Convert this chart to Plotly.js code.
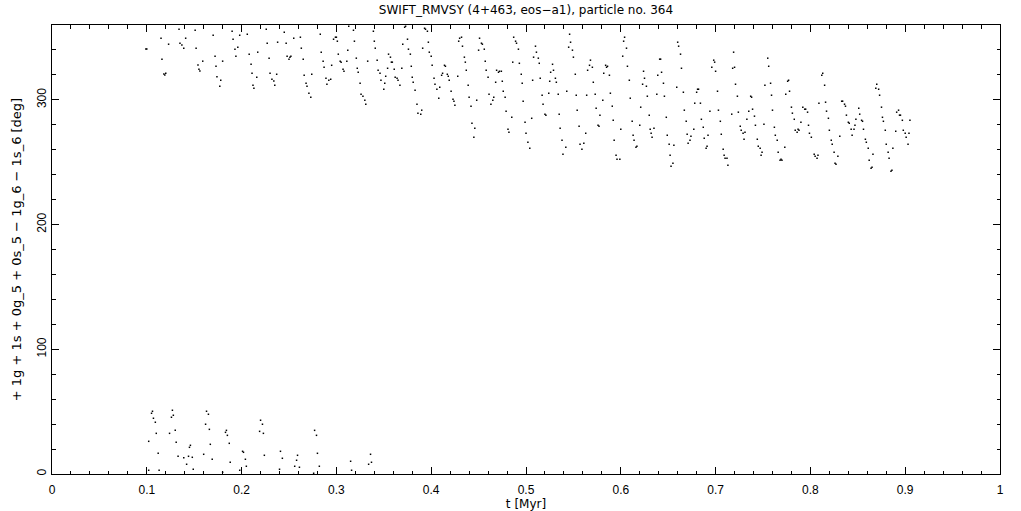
<!DOCTYPE html>
<html>
<head>
<meta charset="utf-8">
<script src="https://cdn.plot.ly/plotly-3.0.1.min.js"></script>
<style>html,body{margin:0;padding:0;background:#fff;}#chart{width:1021px;height:511px;}</style>
</head>
<body>
<div id="chart"></div>
<script>
// Upper band: resonant angle values (deg) vs time (Myr)
const tUpper = [0.099,0.100,0.115,0.116,0.118,0.120,0.119,0.123,0.134,0.135,0.137,0.139,0.141,0.151,0.152,0.154,0.155,0.156,0.159,0.170,
0.172,0.173,0.174,0.178,0.177,0.180,0.190,0.191,0.193,0.196,0.194,0.198,0.206,0.208,0.210,0.211,0.216,0.212,0.213,0.217,
0.226,0.227,0.229,0.230,0.232,0.234,0.235,0.237,0.238,0.245,0.247,0.248,0.250,0.251,0.252,0.255,0.262,0.263,0.265,0.266,
0.268,0.269,0.271,0.273,0.274,0.283,0.284,0.286,0.287,0.289,0.292,0.294,0.290,0.295,0.297,0.299,0.300,0.301,0.302,0.304,
0.305,0.307,0.308,0.311,0.312,0.313,0.318,0.319,0.321,0.322,0.323,0.325,0.326,0.328,0.330,0.331,0.333,0.339,0.340,0.341,
0.343,0.344,0.346,0.347,0.350,0.351,0.352,0.354,0.355,0.357,0.358,0.359,0.361,0.362,0.364,0.365,0.367,0.369,0.370,0.372,
0.373,0.375,0.376,0.378,0.379,0.380,0.381,0.383,0.385,0.386,0.389,0.390,0.391,0.393,0.394,0.396,0.397,0.398,0.400,0.401,
0.403,0.404,0.406,0.409,0.408,0.411,0.412,0.414,0.415,0.417,0.418,0.419,0.421,0.423,0.424,0.425,0.428,0.429,0.430,0.432,
0.433,0.435,0.436,0.437,0.439,0.440,0.442,0.443,0.446,0.445,0.448,0.450,0.451,0.453,0.454,0.456,0.457,0.458,0.460,0.461,
0.463,0.465,0.466,0.468,0.469,0.471,0.472,0.474,0.475,0.476,0.478,0.479,0.481,0.482,0.485,0.486,0.487,0.489,0.490,0.492,
0.493,0.495,0.496,0.497,0.499,0.500,0.502,0.504,0.506,0.507,0.508,0.510,0.511,0.513,0.514,0.515,0.517,0.518,0.520,0.521,
0.524,0.525,0.526,0.528,0.529,0.531,0.532,0.534,0.535,0.536,0.538,0.539,0.542,0.543,0.545,0.546,0.547,0.549,0.550,0.552,
0.553,0.554,0.556,0.557,0.559,0.561,0.563,0.564,0.565,0.567,0.568,0.570,0.571,0.573,0.574,0.576,0.577,0.578,0.581,0.582,
0.584,0.585,0.586,0.588,0.589,0.591,0.592,0.593,0.595,0.596,0.599,0.600,0.602,0.603,0.604,0.606,0.607,0.609,0.610,0.612,
0.613,0.614,0.616,0.617,0.620,0.621,0.623,0.624,0.625,0.627,0.628,0.630,0.631,0.632,0.633,0.635,0.638,0.639,0.641,0.642,
0.643,0.645,0.646,0.648,0.649,0.651,0.652,0.653,0.655,0.656,0.659,0.660,0.661,0.663,0.664,0.666,0.667,0.669,0.670,0.671,
0.673,0.674,0.677,0.678,0.680,0.681,0.682,0.684,0.685,0.687,0.688,0.690,0.691,0.692,0.694,0.696,0.698,0.699,0.700,0.702,
0.703,0.705,0.706,0.708,0.709,0.710,0.712,0.713,0.717,0.718,0.719,0.720,0.721,0.723,0.724,0.726,0.727,0.729,0.730,0.731,
0.733,0.735,0.737,0.738,0.739,0.741,0.742,0.744,0.745,0.747,0.748,0.749,0.751,0.752,0.755,0.756,0.758,0.759,0.760,0.762,
0.763,0.765,0.766,0.768,0.769,0.770,0.773,0.774,0.776,0.777,0.778,0.780,0.781,0.783,0.784,0.786,0.787,0.788,0.790,0.792,
0.794,0.795,0.797,0.798,0.799,0.801,0.804,0.805,0.807,0.808,0.809,0.812,0.813,0.815,0.816,0.817,0.819,0.820,0.822,0.823,
0.825,0.826,0.827,0.829,0.831,0.833,0.834,0.836,0.837,0.838,0.840,0.841,0.843,0.844,0.846,0.847,0.848,0.851,0.852,0.854,
0.855,0.856,0.858,0.859,0.861,0.862,0.864,0.865,0.866,0.869,0.870,0.872,0.873,0.875,0.876,0.877,0.879,0.880,0.882,0.883,
0.885,0.886,0.887,0.890,0.891,0.893,0.894,0.895,0.897,0.898,0.900,0.901,0.903,0.904,0.905];
const phiUpper = [340.8,340.8,349.4,332.6,320.8,321.3,320.0,344.6,356.6,345.4,344.0,341.4,349.4,355.8,341.4,328.0,324.5,323.2,331.0,351.8,
335.0,326.9,318.6,315.7,310.9,331.0,355.0,348.6,340.6,342.2,335.0,351.8,352.6,336.6,328.5,321.3,318.1,311.7,309.3,338.2,
356.6,345.4,333.4,321.3,316.5,315.2,311.7,320.5,346.2,354.2,345.4,335.0,332.6,334.2,335.0,349.4,350.2,341.4,332.6,319.7,
313.3,310.9,305.3,302.1,320.5,352.6,338.2,331.0,326.1,317.3,315.7,316.5,312.5,327.7,348.6,350.2,350.2,347.0,336.6,331.0,
330.2,324.5,322.9,331.0,339.8,359.0,355.8,347.0,333.4,325.3,322.1,313.3,304.5,302.9,299.7,296.5,331.0,355.0,347.0,341.4,
331.8,323.7,321.3,315.7,308.5,313.3,318.9,325.3,336.6,334.2,330.2,330.2,324.5,318.1,317.3,315.7,311.7,325.3,344.6,358.2,
359.0,348.6,340.6,336.6,326.9,318.1,314.1,307.7,296.5,289.3,288.5,291.7,341.4,357.4,356.6,355.0,346.2,338.2,335.0,327.7,
317.3,312.5,308.5,310.1,301.3,319.7,321.3,327.7,326.9,320.5,318.9,315.7,306.9,300.5,298.9,295.7,318.9,347.0,349.4,350.2,
343.0,334.2,330.2,323.7,311.7,302.1,294.9,281.2,277.2,270.0,299.7,339.8,349.4,345.4,344.6,340.6,331.0,323.7,318.1,304.5,
296.5,299.7,302.1,314.1,323.7,322.1,322.9,322.9,314.9,306.9,302.1,290.9,276.4,274.0,286.0,330.2,350.2,347.0,345.4,340.6,
329.3,320.5,313.3,298.9,282.0,273.2,266.0,261.2,285.2,315.7,334.2,343.0,338.2,333.4,329.3,317.3,303.7,296.5,288.5,287.7,
305.3,314.9,322.1,328.5,323.7,317.3,314.1,304.5,288.5,277.2,267.6,256.4,262.0,306.9,342.2,352.6,346.2,339.8,334.2,320.5,
303.7,291.7,278.8,264.4,260.4,265.2,273.2,303.7,323.7,327.7,331.8,326.1,314.1,304.5,293.3,279.6,278.8,287.7,299.7,321.3,
327.7,326.1,326.9,319.7,305.3,294.9,283.6,267.6,255.6,252.4,252.4,276.4,335.0,347.0,350.2,341.4,326.9,315.7,301.3,282.8,
271.6,267.6,262.0,262.8,279.6,294.1,312.5,322.9,317.3,310.9,302.9,287.7,276.4,273.2,270.0,277.2,304.5,319.7,332.6,332.6,
322.1,313.3,302.9,286.0,271.6,264.4,255.6,246.8,249.2,263.6,310.1,346.2,343.0,336.6,325.3,306.1,291.7,282.8,272.4,265.2,
267.6,270.8,276.4,297.3,306.1,308.5,308.5,297.3,284.4,278.0,269.2,261.2,262.8,271.6,290.9,326.1,331.8,330.2,322.9,306.9,
291.7,282.8,272.4,260.4,255.6,253.2,253.2,247.6,288.5,325.3,338.2,326.1,312.5,302.9,290.1,278.8,275.6,273.2,268.4,274.0,
284.4,290.9,302.9,302.1,292.5,286.9,279.6,268.4,262.8,261.2,255.6,258.0,280.4,311.7,333.4,326.9,313.3,303.7,291.7,278.0,
271.6,267.6,258.0,251.6,252.4,251.6,262.0,304.5,314.9,315.7,306.9,294.1,289.3,284.4,275.6,274.0,276.4,275.6,282.0,294.1,
292.5,292.5,290.1,279.6,273.2,270.0,256.4,254.8,253.2,255.6,297.3,319.7,321.3,311.7,298.1,290.9,285.2,275.6,267.6,264.4,
258.0,249.2,248.4,254.8,270.8,298.9,298.9,296.5,294.9,287.7,282.0,281.2,276.4,271.6,276.4,279.6,284.4,293.3,288.5,283.6,
282.8,276.4,268.4,266.0,261.2,251.6,245.2,246.0,256.4,309.3,312.5,308.5,303.7,294.1,286.0,282.8,275.6,264.4,258.0,253.2,
242.7,243.5,261.2,274.8,290.1,291.7,287.7,287.7,283.6,275.6,273.2,270.0,264.4,273.2,283.6];

// Lower band (angle wrapped past 360 deg)
const tLower = [0.102,0.105,0.106,0.107,0.109,0.110,0.112,0.102,0.113,0.124,0.126,0.127,0.128,0.130,0.131,0.133,0.142,0.144,0.145,0.146,
0.148,0.149,0.160,0.162,0.163,0.165,0.166,0.167,0.169,0.183,0.184,0.185,0.187,0.188,0.201,0.202,0.204,0.205,0.220,0.222,
0.223,0.219,0.224,0.240,0.241,0.243,0.256,0.258,0.259,0.261,0.277,0.279,0.280,0.282,0.315,0.316,0.336,0.337,0.334,0.276,
0.180,0.198,0.139];
const phiLower = [26.2,48.7,50.3,44.7,41.5,32.6,16.6,3.0,3.0,32.6,45.5,51.1,47.1,35.0,25.4,14.2,7.8,14.2,21.4,23.0,
13.4,3.8,15.8,39.9,50.3,47.9,35.8,23.8,11.8,33.4,35.0,31.0,24.6,9.4,18.2,17.4,11.8,6.2,43.1,39.9,
32.6,34.2,15.0,3.8,18.2,12.6,6.2,11.0,15.0,5.4,35.0,31.0,16.6,6.2,10.2,3.0,15.8,9.4,7.8,0.6,
1.4,3.0,13.1];

const titleText = 'SWIFT_RMVSY (4+463, eos\u2212a1), particle no. 364';
const xTitle = 't [Myr]';
const yTitle = '+ 1g + 1s + 0g_5 + 0s_5 \u2212 1g_6 \u2212 1s_6 [deg]';

const FONT = 'Liberation Sans, Arial, sans-serif';
const WIDEFONT = 'DejaVu Sans, sans-serif';
const marker = {symbol: 'square', size: 1.5, color: '#000', line: {width: 0}};

const traces = [
  {x: tUpper, y: phiUpper, type: 'scatter', mode: 'markers', marker: marker, hoverinfo: 'x+y'},
  {x: tLower, y: phiLower, type: 'scatter', mode: 'markers', marker: marker, hoverinfo: 'x+y'}
];

const axisCommon = {
  showline: true, linecolor: '#000', linewidth: 1, mirror: 'allticks',
  ticks: 'inside', tickcolor: '#000', tickwidth: 1, ticklen: 7,
  showgrid: false, zeroline: false,
  tickfont: {family: FONT, size: 12, color: '#000'}
};

const layout = {
  width: 1021, height: 511,
  margin: {l: 52, r: 21, t: 25, b: 37, pad: 0},
  paper_bgcolor: '#fff', plot_bgcolor: '#fff',
  showlegend: false,
  font: {family: FONT, size: 12, color: '#000'},
  title: {text: titleText, font: {family: WIDEFONT, size: 12, color: '#000'},
          x: 0.5, xref: 'paper', y: 1 - 10/511, yref: 'container', yanchor: 'middle'},
  xaxis: Object.assign({}, axisCommon, {
    range: [0, 1], tickmode: 'linear', tick0: 0, dtick: 0.1,
    ticklabelstandoff: 5,
    minor: {dtick: 0.02, ticks: 'inside', ticklen: 3.5, tickcolor: '#000', tickwidth: 1, showgrid: false},
    title: {text: xTitle, font: {family: WIDEFONT, size: 12, color: '#000'}, standoff: 2}
  }),
  yaxis: Object.assign({}, axisCommon, {
    range: [0, 360], tickmode: 'linear', tick0: 0, dtick: 100, tickangle: -90,
    minor: {dtick: 20, ticks: 'inside', ticklen: 3.5, tickcolor: '#000', tickwidth: 1, showgrid: false},
    title: {text: yTitle, font: {family: WIDEFONT, size: 13, color: '#000'}, standoff: 10}
  })
};

Plotly.newPlot('chart', traces, layout, {displayModeBar: false, responsive: false, staticPlot: true});
</script>
</body>
</html>
